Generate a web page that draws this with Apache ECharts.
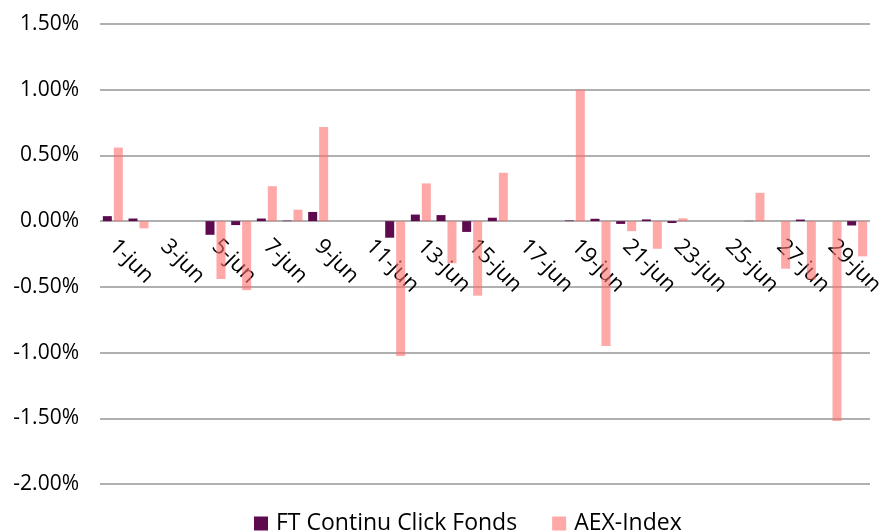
<!DOCTYPE html>
<html>
<head>
<meta charset="utf-8">
<script src="https://cdn.jsdelivr.net/npm/echarts@6/dist/echarts.min.js"></script>
<style>
html,body{margin:0;padding:0;background:#fff;}
#chart{width:879px;height:532px;}
</style>
</head>
<body>
<div id="chart"></div>
<script>
var categories = ["1-jun","2-jun","3-jun","4-jun","5-jun","6-jun","7-jun","8-jun","9-jun","10-jun",
  "11-jun","12-jun","13-jun","14-jun","15-jun","16-jun","17-jun","18-jun","19-jun","20-jun",
  "21-jun","22-jun","23-jun","24-jun","25-jun","26-jun","27-jun","28-jun","29-jun","30-jun"];
var ftClick = [0.038, 0.02, null, null, -0.104, -0.03, 0.02, 0.004, 0.07, null,
  null, -0.126, 0.05, 0.046, -0.082, 0.026, null, null, 0.005, 0.018,
  -0.021, 0.013, -0.014, null, null, 0.002, 0, 0.012, 0, -0.033];
var aex = [0.56, -0.055, null, null, -0.44, -0.525, 0.266, 0.087, 0.716, null,
  null, -1.027, 0.287, -0.32, -0.567, 0.368, null, null, 1.0, -0.95,
  -0.076, -0.21, 0.022, null, null, 0.216, -0.362, -0.445, -1.52, -0.268];
var seriesNames = ["FT Continu Click Fonds", "AEX-Index"];
var yTicks = {min: -2, max: 1.5, interval: 0.5};

var FONT = "'Open Sans', 'Noto Sans', sans-serif";
var chart = echarts.init(document.getElementById('chart'), null, {renderer: 'canvas'});
chart.setOption({
  animation: false,
  backgroundColor: '#ffffff',
  textStyle: {fontFamily: FONT},
  grid: {left: 100, right: 9, top: 24, bottom: 48, containLabel: false, outerBoundsMode: 'none'},
  legend: {
    bottom: -8,
    left: 249,
    itemWidth: 14,
    itemHeight: 14,
    itemGap: 35,
    icon: 'rect',
    textStyle: {fontFamily: FONT, fontSize: 23, color: '#000', padding: [0, 0, 0, 3]},
    data: seriesNames
  },
  xAxis: {
    type: 'category',
    data: categories,
    position: 'bottom',
    offset: -262,
    axisLine: {show: false, onZero: false},
    axisTick: {show: false},
    axisLabel: {
      interval: 1,
      rotate: -45,
      margin: 21,
      fontFamily: FONT,
      fontSize: 22,
      color: '#000'
    },
    splitLine: {show: false}
  },
  yAxis: {
    type: 'value',
    min: yTicks.min,
    max: yTicks.max,
    interval: yTicks.interval,
    axisLine: {show: false},
    axisTick: {show: false},
    axisLabel: {
      margin: 21,
      fontFamily: FONT,
      fontSize: 21,
      color: '#000',
      formatter: function (v) { return (Math.abs(v) < 1e-9 ? 0 : v).toFixed(2) + '%'; }
    },
    splitLine: {show: true, lineStyle: {color: '#969696', width: 1.5}}
  },
  series: [
    {
      name: seriesNames[0],
      type: 'bar',
      data: ftClick,
      barWidth: 9,
      barGap: '22%',
      itemStyle: {color: '#5e0a4f'}
    },
    {
      name: seriesNames[1],
      type: 'bar',
      data: aex,
      barWidth: 9,
      itemStyle: {color: 'rgba(255,110,110,0.6)'}
    }
  ]
});
</script>
</body>
</html>
